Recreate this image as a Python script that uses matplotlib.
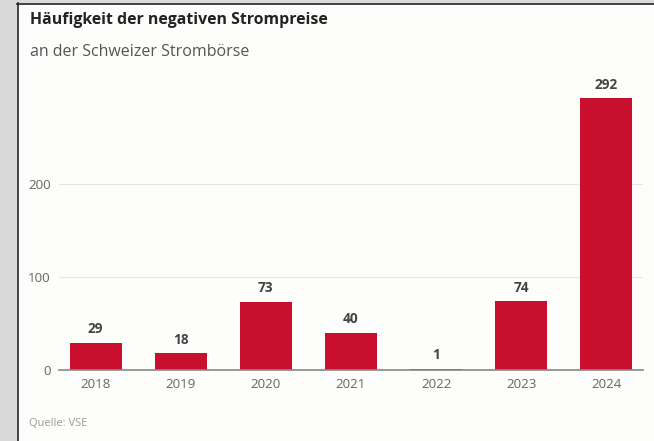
import matplotlib
matplotlib.use("Agg")
import matplotlib.pyplot as plt
from matplotlib.patches import Rectangle
from matplotlib.lines import Line2D

years = ["2018", "2019", "2020", "2021", "2022", "2023", "2024"]
counts = [29, 18, 73, 40, 1, 74, 292]
y_ticks = [0, 100, 200]

BAR = "#c8102e"
FONT = ["Open Sans", "DejaVu Sans"]
plt.rcParams["font.family"] = FONT

W, H = 654, 441
fig = plt.figure(figsize=(W / 100, H / 100), dpi=100, facecolor="#fdfdfb")

# grey frame on the left and top, with a thin dark rule
fig.patches.append(Rectangle((0, 0), 17 / W, 1, transform=fig.transFigure,
                             facecolor="#d9d9d9", edgecolor="none", zorder=0))
fig.patches.append(Rectangle((0, 1 - 3 / H), 1, 3 / H, transform=fig.transFigure,
                             facecolor="#d9d9d9", edgecolor="none", zorder=0))
fig.lines.append(Line2D([17.5 / W, 17.5 / W], [0, 1 - 3 / H], transform=fig.transFigure,
                        color="#222222", lw=1.2))
fig.lines.append(Line2D([17 / W, 1], [1 - 3.5 / H, 1 - 3.5 / H], transform=fig.transFigure,
                        color="#222222", lw=1.2))

left, right = 59 / W, 643 / W
bottom, top = 1 - 370 / H, 1 - 91 / H
ax = fig.add_axes([left, bottom, right - left, top - bottom])
ax.set_facecolor("none")

x = range(len(years))
ax.bar(x, counts, width=0.61, color=BAR, zorder=3)
for xi, v in zip(x, counts):
    ax.annotate(str(v), (xi, v), xytext=(0, 4.8), textcoords="offset points",
                ha="center", va="bottom", fontsize=9.8, fontweight="bold",
                color="#444444")

ax.set_xlim(-0.43, 6.43)
ax.set_ylim(0, 300)
ax.set_yticks(y_ticks)
ax.set_xticks(list(x))
ax.set_xticklabels(years)
ax.grid(axis="y", color="#e6e6e6", lw=0.8, zorder=0)
for s in ["top", "right", "left"]:
    ax.spines[s].set_visible(False)
ax.spines["bottom"].set_color("#888888")
ax.spines["bottom"].set_linewidth(1.2)
ax.spines["bottom"].set_zorder(4)
ax.tick_params(axis="both", length=0, labelsize=9.6, labelcolor="#666666")
ax.tick_params(axis="y", pad=6)
ax.tick_params(axis="x", pad=5.5)

fig.text(30 / W, 1 - 20 / H, "Häufigkeit der negativen Strompreise", fontsize=11.4,
         fontweight="bold", color="#222222", va="center", ha="left")
fig.text(30 / W, 1 - 52 / H, "an der Schweizer Strombörse", fontsize=11.5,
         color="#555555", va="center", ha="left")
fig.text(29 / W, 1 - 424 / H, "Quelle: VSE", fontsize=8, color="#999999",
         va="center", ha="left")

fig.savefig("out.png", dpi=100, facecolor=fig.get_facecolor())
